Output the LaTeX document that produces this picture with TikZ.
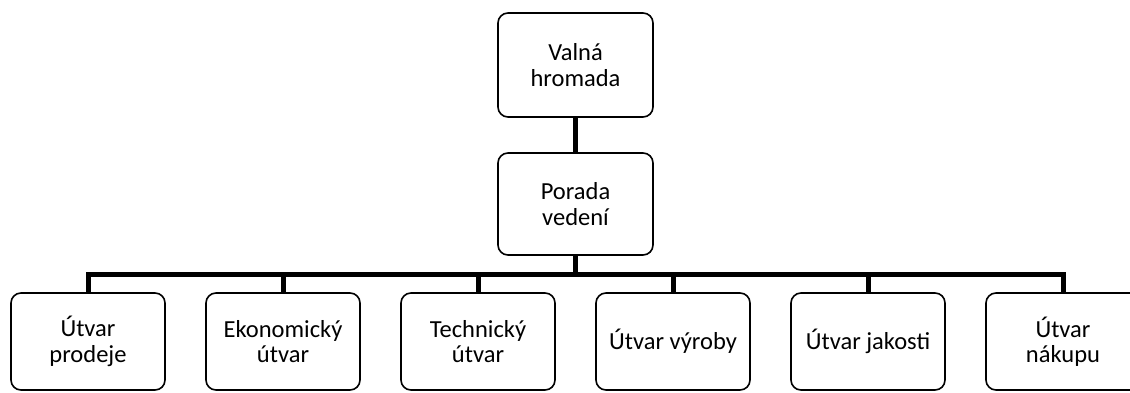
\documentclass[tikz,border=0pt]{standalone}
\usepackage{fontspec}
\setmainfont{Carlito}
\begin{document}
\begin{tikzpicture}[x=1pt,y=1pt,
  box/.style={draw=black, fill=white, line width=1.6pt, rounded corners=10pt,
    minimum width=154pt, inner sep=0pt, align=center,
    font=\fontsize{24.5}{25.5}\selectfont},
  conn/.style={draw=black, line width=5pt}]
\useasboundingbox (0,0) rectangle (1130,392);
\clip (0,0) rectangle (1130,392);
\node[box, minimum width=155pt, minimum height=104pt] (vh) at (575.5,327) {Valná\\hromada};
\node[box, minimum width=155pt, minimum height=102pt] (pv) at (575.5,188) {Porada\\vedení};
\node[box, minimum height=97pt] (u1) at (88,50.5) {Útvar\\prodeje};
\node[box, minimum height=97pt] (u2) at (283,50.5) {Ekonomický\\útvar};
\node[box, minimum height=97pt] (u3) at (478,50.5) {Technický\\útvar};
\node[box, minimum height=97pt] (u4) at (673,50.5) {Útvar výroby};
\node[box, minimum height=97pt] (u5) at (868,50.5) {Útvar jakosti};
\node[box, minimum height=97pt] (u6) at (1063,50.5) {Útvar\\nákupu};
\coordinate (bar) at (575.5,118);
\draw[conn] (vh.south) -- (pv.north);
\draw[conn] (pv.south) -- (bar);
\foreach \n in {u1,u2,u3,u4,u5,u6} {
  \draw[conn] (bar) -| (\n.north);
}
\end{tikzpicture}
\end{document}
